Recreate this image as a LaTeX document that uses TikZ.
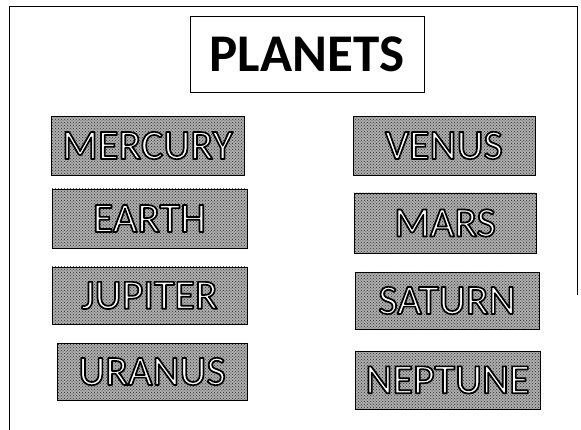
\documentclass[tikz,border=0pt]{standalone}
\usepackage{fontspec}
\setmainfont{Carlito}
\usetikzlibrary{patterns}

% white letters with a dark rim (fill and stroke the glyphs)
\newcommand{\rimtext}[1]{\textcolor{white}{\special{pdf:code q 2 Tr 1.7 w 0 G 1 j}#1\special{pdf:code Q}}}

\begin{document}
\begin{tikzpicture}[
  x=1pt,y=-1pt,
  planet/.style={draw,thick,inner sep=0pt,preaction={fill=gray!65},
    pattern=crosshatch dots,pattern color=gray!40!black,
    font=\fontsize{42}{42}\selectfont},
  heading/.style={draw,inner sep=0pt,font=\fontsize{53}{53}\selectfont\bfseries}
]
  \useasboundingbox (0,0) rectangle (581,430);
  \draw (9,430) -- (9,6) -- (577,6) -- (577,295);
  \node[heading,minimum width=234pt,minimum height=76pt] (title) at (307,54) {PLANETS};

  \node[planet,minimum width=193pt,minimum height=59pt] (mercury) at (147.5,145.5) {\rimtext{MERCURY}};
  \node[planet,minimum width=182pt,minimum height=59pt] (venus) at (444,145.5) {\rimtext{VENUS}};
  \node[planet,minimum width=195pt,minimum height=59pt] (earth) at (149.5,218.5) {\rimtext{EARTH}};
  \node[planet,minimum width=182pt,minimum height=60pt] (mars) at (445,223) {\rimtext{MARS}};
  \node[planet,minimum width=195pt,minimum height=57pt] (jupiter) at (149.5,295.5) {\rimtext{JUPITER}};
  \node[planet,minimum width=184pt,minimum height=57pt] (saturn) at (447,300.5) {\rimtext{SATURN}};
  \node[planet,minimum width=190pt,minimum height=57pt] (uranus) at (152,371.5) {\rimtext{URANUS}};
  \node[planet,minimum width=185pt,minimum height=58pt] (neptune) at (447.5,380) {\rimtext{NEPTUNE}};
\end{tikzpicture}
\end{document}
